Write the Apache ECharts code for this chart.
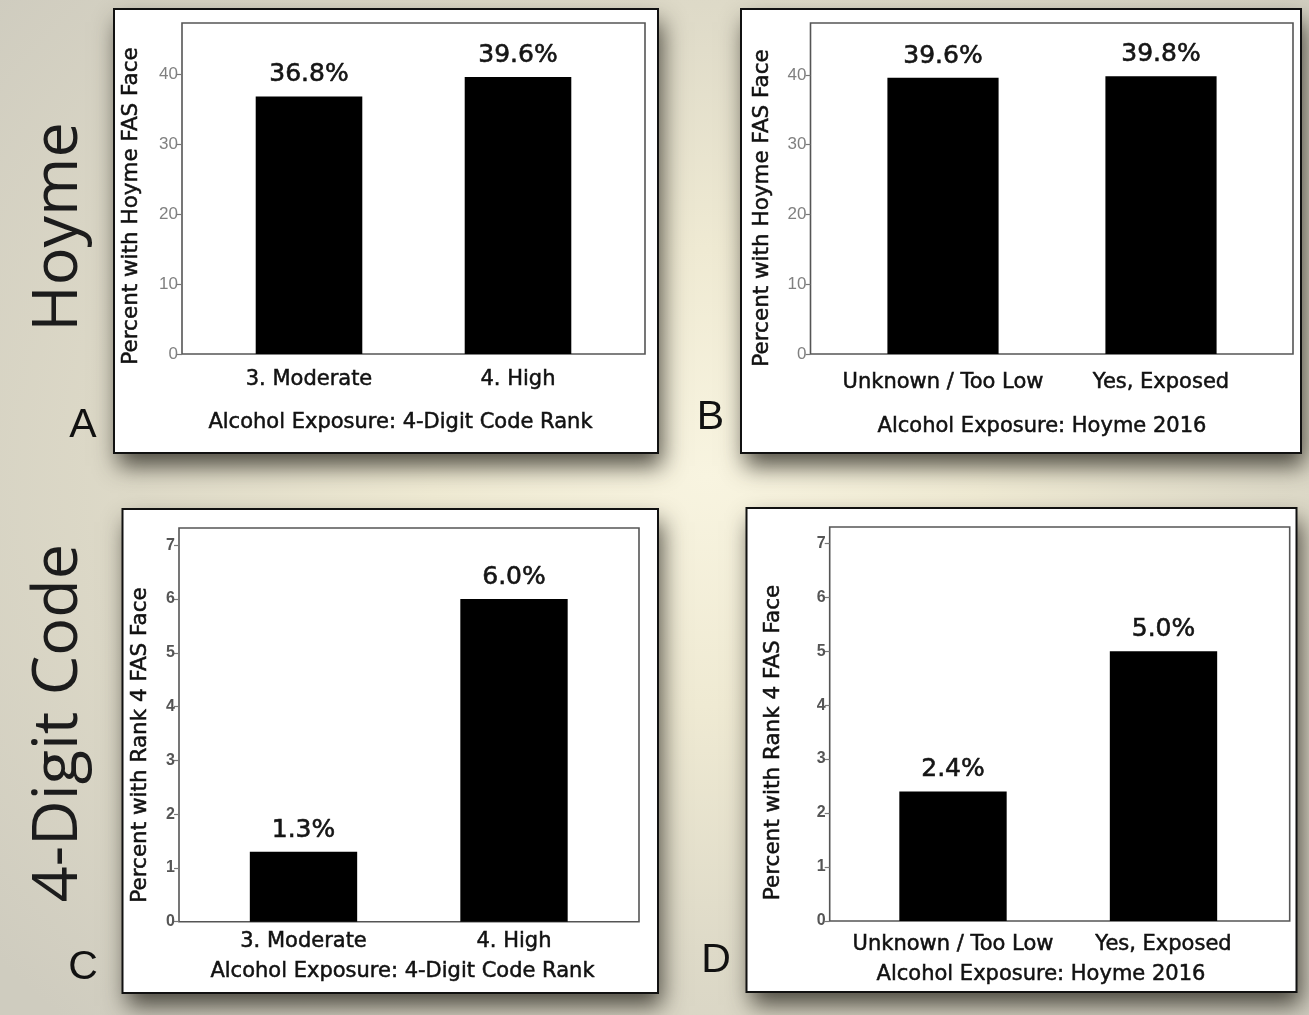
<!DOCTYPE html>
<html>
<head>
<meta charset="utf-8">
<script src="https://cdn.jsdelivr.net/npm/echarts@6/dist/echarts.min.js"></script>
<style>
  html, body { margin: 0; padding: 0; }
  body {
    width: 1309px; height: 1015px; overflow: hidden;
    background: radial-gradient(ellipse 70% 75% at 54% 47%, #f8f4e0 0%, #efead3 30%, #dedac8 62%, #cfccbf 100%);
  }
  #chart { width: 1309px; height: 1015px; }
</style>
</head>
<body>
<div id="chart"></div>
<script>
// ---- data ----
const catsRank = ['3. Moderate', '4. High'];
const catsHoyme = ['Unknown / Too Low', 'Yes, Exposed'];
const valuesA = [36.8, 39.6];   // Hoyme FAS face by 4-Digit Code rank
const valuesB = [39.6, 39.8];   // Hoyme FAS face by Hoyme 2016 exposure
const valuesC = [1.3, 6.0];     // Rank 4 FAS face by 4-Digit Code rank
const valuesD = [2.4, 5.0];     // Rank 4 FAS face by Hoyme 2016 exposure
const ticksHoyme = [0, 10, 20, 30, 40];
const ticksRank4 = [0, 1, 2, 3, 4, 5, 6, 7];
const yNameHoyme = 'Percent with Hoyme FAS Face';
const yNameRank4 = 'Percent with Rank 4 FAS Face';
const xNameRank = 'Alcohol Exposure: 4-Digit Code Rank';
const xNameHoyme = 'Alcohol Exposure: Hoyme 2016';

// ---- layout (decoration / positions only) ----
const panels = [
  { cats: catsRank,  vals: valuesA, ticks: ticksHoyme, ymax: 47.3, yName: yNameHoyme, xName: xNameRank,
    frame: { left: 182, top: 23, width: 463, height: 331 }, plot: { left: 204.5, width: 418 },
    box: { x: 114, y: 9, width: 544, height: 444 }, labelMargin: 15, tickStyle: 'light',
    yNamePos: [131, 206], xNamePos: [400.5, 423], letter: 'A', letterPos: [83, 426] },
  { cats: catsHoyme, vals: valuesB, ticks: ticksHoyme, ymax: 47.45, yName: yNameHoyme, xName: xNameHoyme,
    frame: { left: 810.5, top: 23, width: 482.5, height: 331 }, plot: { left: 834, width: 436 },
    box: { x: 741, y: 9, width: 560, height: 444 }, labelMargin: 18, tickStyle: 'light',
    yNamePos: [762, 208], xNamePos: [1042, 427], letter: 'B', letterPos: [710.5, 418] },
  { cats: catsRank,  vals: valuesC, ticks: ticksRank4, ymax: 7.32, yName: yNameRank4, xName: xNameRank,
    frame: { left: 179, top: 528, width: 460, height: 393.7 }, plot: { left: 198.25, width: 421 },
    box: { x: 122.5, y: 509, width: 535.5, height: 484 }, labelMargin: 9, tickStyle: 'bold',
    yNamePos: [140, 745], xNamePos: [402.5, 972], letter: 'C', letterPos: [83, 968] },
  { cats: catsHoyme, vals: valuesD, ticks: ticksRank4, ymax: 7.3, yName: yNameRank4, xName: xNameHoyme,
    frame: { left: 829.7, top: 527, width: 460, height: 394 }, plot: { left: 847.75, width: 421 },
    box: { x: 746.5, y: 508, width: 550, height: 484 }, labelMargin: 13, tickStyle: 'bold',
    yNamePos: [773, 742.5], xNamePos: [1041, 975], letter: 'D', letterPos: [716, 961] }
];

const FONT = 'DejaVu Sans';
const INK = '#111';
const grid = [], xAxis = [], yAxis = [], series = [], graphic = [];

panels.forEach((p, i) => {
  // drop shadow of the card (separate so it does not bleed inside)
  graphic.push({
    type: 'rect', z: -20, shape: { x: p.box.x, y: p.box.y, width: p.box.width, height: p.box.height },
    style: { fill: '#ffffff', shadowBlur: 22, shadowOffsetX: 4, shadowOffsetY: 13, shadowColor: 'rgba(40,38,30,0.8)' }
  });
  // white card with black border
  graphic.push({
    type: 'rect', z: -10, shape: { x: p.box.x, y: p.box.y, width: p.box.width, height: p.box.height },
    style: { fill: '#ffffff', stroke: '#111', lineWidth: 2 }
  });
  grid.push({ left: p.frame.left, top: p.frame.top, width: p.frame.width, height: p.frame.height,
              show: true, borderColor: '#555', borderWidth: 1.6, backgroundColor: 'transparent' });
  grid.push({ left: p.plot.left, top: p.frame.top, width: p.plot.width, height: p.frame.height });

  const bold = p.tickStyle === 'bold';
  xAxis.push({ gridIndex: 2 * i, type: 'value', min: 0, max: 1, show: false });
  xAxis.push({
    gridIndex: 2 * i + 1, type: 'category', data: p.cats,
    axisLine: { show: false }, axisTick: { show: false },
    axisLabel: { interval: 0, hideOverlap: false, margin: p.labelMargin, fontFamily: FONT, fontSize: 21, color: INK,
                 textBorderColor: INK, textBorderWidth: 0.5 }
  });
  yAxis.push({
    gridIndex: 2 * i, type: 'value', min: 0, max: p.ymax,
    axisLine: { show: false },
    axisTick: { show: true, length: 5, customValues: p.ticks, lineStyle: { color: '#777', width: 1.2 } },
    axisLabel: { customValues: p.ticks, margin: 4, fontFamily: 'Liberation Sans',
                 fontSize: bold ? 16 : 17, fontWeight: bold ? 'bold' : 'normal', color: bold ? '#555' : '#808080' },
    splitLine: { show: false }
  });
  yAxis.push({ gridIndex: 2 * i + 1, type: 'value', min: 0, max: p.ymax, show: false });

  series.push({
    type: 'bar', xAxisIndex: 2 * i + 1, yAxisIndex: 2 * i + 1, data: p.vals,
    barWidth: '51%', itemStyle: { color: '#000' },
    label: { show: true, position: 'top', distance: 9, fontFamily: FONT, fontSize: 25, color: '#151515',
             textBorderColor: '#151515', textBorderWidth: 0.6,
             formatter: (d) => d.value.toFixed(1) + '%' },
    silent: true, animation: false
  });

  graphic.push({ type: 'text', x: p.yNamePos[0], y: p.yNamePos[1], rotation: Math.PI / 2,
    style: { text: p.yName, fontFamily: FONT, fontSize: 21.5, fill: INK, stroke: INK, lineWidth: 0.5,
             align: 'center', verticalAlign: 'middle' } });
  graphic.push({ type: 'text', x: p.xNamePos[0], y: p.xNamePos[1],
    style: { text: p.xName, fontFamily: FONT, fontSize: 21, fill: INK, stroke: INK, lineWidth: 0.5,
             align: 'center', verticalAlign: 'middle' } });
  graphic.push({ type: 'text', x: p.letterPos[0], y: p.letterPos[1],
    style: { text: p.letter, fontFamily: 'Liberation Sans', fontSize: 41, fill: INK, align: 'center', verticalAlign: 'middle' } });
});

// row labels on the left
graphic.push({ type: 'text', x: 59, y: 227, rotation: Math.PI / 2,
  style: { text: 'Hoyme', fontFamily: 'Open Sans', fontSize: 63, fill: '#1c1c1c', align: 'center', verticalAlign: 'middle' } });
graphic.push({ type: 'text', x: 59, y: 723, rotation: Math.PI / 2,
  style: { text: '4-Digit Code', fontFamily: 'Open Sans', fontSize: 63, fill: '#1c1c1c', align: 'center', verticalAlign: 'middle' } });

const chart = echarts.init(document.getElementById('chart'), null, { renderer: 'canvas' });
chart.setOption({ animation: false, backgroundColor: 'transparent', grid, xAxis, yAxis, series, graphic });
</script>
</body>
</html>
